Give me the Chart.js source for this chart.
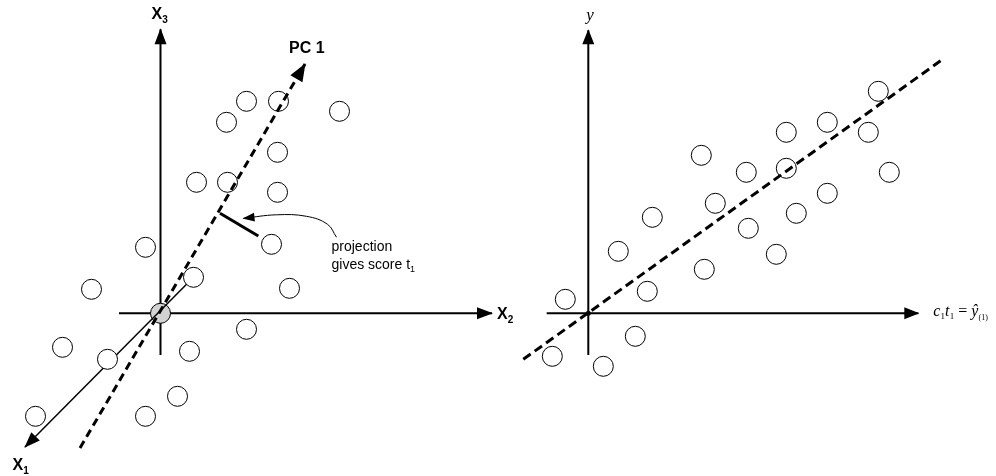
<!DOCTYPE html>
<html>
<head>
<meta charset="utf-8">
<title>PCA score and PLS regression</title>
<script src="https://cdn.jsdelivr.net/npm/chart.js@4.4.1/dist/chart.umd.min.js"></script>
<style>
  html, body { margin: 0; padding: 0; background: #fff; }
  #wrap { position: relative; width: 996px; height: 476px; overflow: hidden; }
  #wrap canvas { position: absolute; top: 0; }
  #pcaChart { left: 0; }
  #plsChart { left: 500px; }
</style>
</head>
<body>
<div id="wrap">
  <canvas id="pcaChart" width="530" height="476"></canvas>
  <canvas id="plsChart" width="496" height="476"></canvas>
</div>
<script>
// one data unit = 10 px on both panels
const UNIT_PX = 10;

// --- left panel: observations in X-space (x2 across, x3 up, x1 oblique) ---
const x2Axis = [[-4.15, 0], [33.15, 0]];
const x3Axis = [[0, -4.17], [0, 28.4]];
const x1Axis = [[3.3, 3.6], [-13.55, -13.37]];
const pc1Line = [[-8.05, -13.47], [14.45, 24.93]];
const projection = [[5.95, 10.0], [9.78, 7.73]];
const scoreCallout = [[17.6, 7.6], [16.7, 8.9], [14.6, 9.7], [11.6, 9.85], [8.3, 9.5]];
const obsX2 = [8.6, 11.8, 17.9, 6.6, 11.7, 3.6, 6.7, 11.7, 11.1, -1.5, 3.3, -6.9, 12.9, 8.6, -9.8, -5.3, 2.9, 1.7, -12.5, -1.5];
const obsX3 = [21.2, 21.2, 20.2, 19.1, 16.1, 13.1, 13.1, 12.1, 6.9, 6.6, 3.6, 2.4, 2.5, -1.6, -3.4, -4.6, -3.8, -8.3, -10.3, -10.3];

// --- right panel: y against the first score ---
const yAxis = [[0, -4.17], [0, 28.3]];
const tAxis = [[-4.16, 0], [33.0, 0]];
const fitLine = [[-6.5, -4.6], [35.3, 25.3]];
const scoreT = [29.0, 23.9, 19.8, 28.0, 11.3, 15.8, 19.8, 30.1, 23.9, 12.7, 20.8, 6.4, 16.0, 3.0, 18.8, 11.6, 5.9, -2.3, 4.7, -3.6, 1.5];
const respY = [22.2, 19.1, 18.1, 18.1, 15.8, 14.1, 14.5, 14.1, 12.0, 11.0, 10.0, 9.6, 8.5, 6.2, 5.9, 4.4, 2.2, 1.4, -2.3, -4.3, -5.3];

const SANS = '"Liberation Sans", Arial, Helvetica, sans-serif';
const SERIF = '"Liberation Serif", "Times New Roman", Times, serif';

const toXY = pairs => pairs.map(([x, y]) => ({ x, y }));

function segment(points, extra) {
    return Object.assign({
        data: toXY(points),
        showLine: true,
        pointRadius: 0,
        borderColor: '#000',
        borderWidth: 2,
        borderCapStyle: 'butt',
        fill: false,
        tension: 0,
        clip: false
    }, extra);
}

function circles(xs, ys, extra) {
    return Object.assign({
        data: xs.map((x, i) => ({ x, y: ys[i] })),
        showLine: false,
        pointStyle: 'circle',
        pointRadius: 10,
        pointBackgroundColor: '#fff',
        pointBorderColor: '#000',
        pointBorderWidth: 1,
        clip: false
    }, extra);
}

// filled arrow head at the last point of any dataset carrying `arrow: [length, halfWidth]`
const arrowHeads = {
    id: 'arrowHeads',
    afterDatasetsDraw(chart) {
        const ctx = chart.ctx;
        chart.data.datasets.forEach((ds, i) => {
            if (!ds.arrow) return;
            const pts = chart.getDatasetMeta(i).data;
            const tip = pts[pts.length - 1];
            const prev = pts[pts.length - 2];
            const ang = Math.atan2(tip.y - prev.y, tip.x - prev.x);
            const [len, half] = ds.arrow;
            ctx.save();
            ctx.fillStyle = '#000';
            ctx.translate(tip.x, tip.y);
            ctx.rotate(ang);
            ctx.beginPath();
            ctx.moveTo(1, 0);
            ctx.lineTo(1 - len, -half);
            ctx.lineTo(1 - len, half);
            ctx.closePath();
            ctx.fill();
            ctx.restore();
        });
    }
};

// text pieces (with subscripts) placed relative to a point given in data units
function textLabels(items) {
    return {
        id: 'textLabels',
        afterDraw(chart) {
            const ctx = chart.ctx;
            const sx = chart.scales.x, sy = chart.scales.y;
            ctx.save();
            ctx.fillStyle = '#000';
            ctx.textAlign = 'left';
            ctx.textBaseline = 'alphabetic';
            items.forEach(item => {
                let cx = sx.getPixelForValue(item.at[0]) + item.dx;
                const cy = sy.getPixelForValue(item.at[1]) + item.dy;
                item.parts.forEach(p => {
                    ctx.font = p.font;
                    ctx.fillText(p.text, cx, cy + (p.dy || 0));
                    cx += ctx.measureText(p.text).width + (p.gap || 0);
                });
            });
            ctx.restore();
        }
    };
}

function panelOptions(originX, originY, width, height) {
    return {
        responsive: false,
        animation: false,
        events: [],
        layout: { padding: 0, autoPadding: false },
        plugins: { legend: { display: false }, tooltip: { enabled: false } },
        scales: {
            x: { type: 'linear', display: false, min: -originX / UNIT_PX, max: (width - originX) / UNIT_PX },
            y: { type: 'linear', display: false, min: (originY - height) / UNIT_PX, max: originY / UNIT_PX }
        }
    };
}

const axisMain = 'bold 16px ' + SANS;
const axisSub = 'bold 10px ' + SANS;
const last = arr => arr[arr.length - 1];

// left panel
new Chart(document.getElementById('pcaChart'), {
    type: 'scatter',
    data: {
        datasets: [
            segment(x2Axis, { order: 9, arrow: [16, 6] }),
            segment(x3Axis, { order: 9, arrow: [16, 6] }),
            circles([0], [0], { order: 8, pointBackgroundColor: '#d2d2d2' }),
            segment(x1Axis, { order: 7, borderWidth: 1.5, arrow: [16, 6] }),
            circles(obsX2, obsX3, { order: 6 }),
            segment(pc1Line, { order: 5, borderWidth: 3, borderDash: [8, 5], arrow: [18, 7] }),
            segment(projection, { order: 4, borderWidth: 3 }),
            segment(scoreCallout, { order: 3, borderWidth: 1, tension: 0.4, arrow: [12, 4.5] })
        ]
    },
    options: panelOptions(160.5, 313.3, 530, 476),
    plugins: [arrowHeads, textLabels([
        { at: last(x3Axis), dx: -9, dy: -10, parts: [{ text: 'X', font: axisMain }, { text: '3', font: axisSub, dy: 4 }] },
        { at: last(x2Axis), dx: 5, dy: 5.5, parts: [{ text: 'X', font: axisMain }, { text: '2', font: axisSub, dy: 4 }] },
        { at: last(x1Axis), dx: -12.5, dy: 23, parts: [{ text: 'X', font: axisMain }, { text: '1', font: axisSub, dy: 4 }] },
        { at: last(pc1Line), dx: -16, dy: -11, parts: [{ text: 'PC 1', font: 'bold 16px ' + SANS }] },
        { at: scoreCallout[0], dx: -5, dy: 13.5, parts: [{ text: 'projection', font: '14px ' + SANS }] },
        { at: scoreCallout[0], dx: -5, dy: 31.5, parts: [{ text: 'gives score t', font: '14px ' + SANS }, { text: '1', font: '9px ' + SANS, dy: 3 }] }
    ])]
});

// right panel
new Chart(document.getElementById('plsChart'), {
    type: 'scatter',
    data: {
        datasets: [
            segment(tAxis, { order: 9, arrow: [15, 6] }),
            segment(yAxis, { order: 9, arrow: [15, 6] }),
            circles([0], [0], { order: 8, pointRadius: 2.5, pointBackgroundColor: '#000', pointBorderWidth: 0 }),
            circles(scoreT, respY, { order: 6 }),
            segment(fitLine, { order: 5, borderWidth: 3, borderDash: [9, 5] })
        ]
    },
    options: panelOptions(88.3, 313.3, 496, 476),
    plugins: [arrowHeads, textLabels([
        { at: last(yAxis), dx: -2, dy: -10.5, parts: [{ text: 'y', font: 'italic 17px ' + SERIF }] },
        { at: last(tAxis), dx: 15, dy: 3, parts: [
            { text: 'c', font: 'italic 16px ' + SERIF },
            { text: '1', font: '9px ' + SERIF, dy: 3 },
            { text: 't', font: 'italic 16px ' + SERIF, gap: 0.5 },
            { text: '1', font: '9px ' + SERIF, dy: 3 },
            { text: ' = ', font: '16px ' + SERIF },
            { text: 'ŷ', font: 'italic 16px ' + SERIF },
            { text: '(1)', font: '8px ' + SERIF, dy: 4 }
        ] }
    ])]
});
</script>
</body>
</html>
